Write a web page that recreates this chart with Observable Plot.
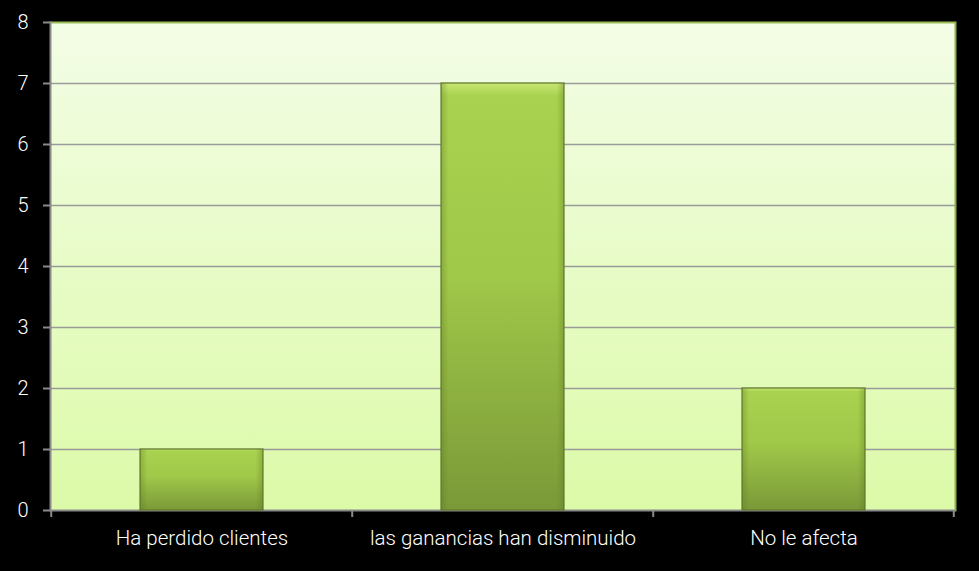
<!DOCTYPE html>
<html><head><meta charset="utf-8">
<script src="https://cdn.jsdelivr.net/npm/d3@7"></script>
<script src="https://cdn.jsdelivr.net/npm/@observablehq/plot@0.6"></script>
<style>
html,body{margin:0;padding:0;background:#000;}
#chart svg{display:block;background:#000;}
</style></head>
<body><div id="chart"></div>
<script>
const categories = ["Ha perdido clientes", "las ganancias han disminuido", "No le afecta"];
const values = [1, 7, 2];
const yTicks = [0, 1, 2, 3, 4, 5, 6, 7, 8];

const data = categories.map((c, i) => ({category: c, value: values[i]}));
const font = "Roboto, 'Open Sans', sans-serif";
const pad = 0.59;

// tick marks at category boundaries, computed from the band scale
function boundaryTicks(index, scales, values, dims) {
  const x = scales.x;
  const step = x.step();
  const y0 = dims.height - dims.marginBottom;
  const xs = categories.map(c => x(c) - step * pad / 2);
  xs.push(x(categories[categories.length - 1]) + x.bandwidth() + step * pad / 2);
  const g = d3.create("svg:g");
  g.selectAll("line").data(xs).join("line")
    .attr("x1", d => d).attr("x2", d => d)
    .attr("y1", y0).attr("y2", y0 + 7)
    .attr("stroke", "#8a8a8a").attr("stroke-width", 2);
  return g.node();
}

const chart = Plot.plot({
  width: 979,
  height: 571,
  marginLeft: 50,
  marginRight: 24,
  marginTop: 22,
  marginBottom: 61,
  style: {background: "#000", color: "#fff", fontFamily: font, fontWeight: 300},
  x: {domain: categories, paddingInner: pad, paddingOuter: pad / 2, align: 0.5, label: null, axis: null},
  y: {domain: [0, 8], ticks: yTicks, label: null, axis: null},
  marks: [
    Plot.frame({fill: "url(#bgGrad)", stroke: "none"}),
    Plot.ruleY(yTicks.filter(d => d > 0 && d < 8), {stroke: "#9a9a9a", strokeWidth: 1.5}),
    Plot.ruleY([8], {stroke: "#9bbb59", strokeWidth: 2}),
    Plot.frame({anchor: "right", stroke: "#8fb04c", strokeWidth: 2}),
    Plot.frame({anchor: "left", stroke: "#8a8a8a", strokeWidth: 2}),
    Plot.ruleY([0], {stroke: "#8a8a8a", strokeWidth: 2}),
    Plot.barY(data, {x: "category", y: "value", fill: "url(#barGrad)", stroke: "#5f7a2a", strokeWidth: 1.2}),
    Plot.barY(data, {x: "category", y: "value", fill: "url(#barSide)", stroke: "none"}),
    Plot.axisY({ticks: yTicks, tickSize: 7, tickPadding: 15, stroke: "#8a8a8a", strokeWidth: 2, fill: "#fff", fontSize: 20, tickFormat: d => d}),
    Plot.axisX({tickSize: 0, tickPadding: 20, fill: "#fff", fontSize: 20.5, stroke: "none"}),
    boundaryTicks
  ]
});

// gradients
const svg = d3.select(chart);
const defs = svg.insert("defs", ":first-child");
const bg = defs.append("linearGradient").attr("id", "bgGrad").attr("x1", 0).attr("y1", 0).attr("x2", 0).attr("y2", 1);
bg.append("stop").attr("offset", "0%").attr("stop-color", "#f3fde6");
bg.append("stop").attr("offset", "100%").attr("stop-color", "#dcfaa8");
const bar = defs.append("linearGradient").attr("id", "barGrad").attr("x1", 0).attr("y1", 0).attr("x2", 0).attr("y2", 1);
bar.append("stop").attr("offset", "0%").attr("stop-color", "#c8e672");
bar.append("stop").attr("offset", "3%").attr("stop-color", "#a9d250");
bar.append("stop").attr("offset", "45%").attr("stop-color", "#a0c849");
bar.append("stop").attr("offset", "100%").attr("stop-color", "#7a9938");
const side = defs.append("linearGradient").attr("id", "barSide").attr("x1", 0).attr("y1", 0).attr("x2", 1).attr("y2", 0);
side.append("stop").attr("offset", "0%").attr("stop-color", "#5a7420").attr("stop-opacity", 0.35);
side.append("stop").attr("offset", "6%").attr("stop-color", "#5a7420").attr("stop-opacity", 0);
side.append("stop").attr("offset", "94%").attr("stop-color", "#5a7420").attr("stop-opacity", 0);
side.append("stop").attr("offset", "100%").attr("stop-color", "#5a7420").attr("stop-opacity", 0.35);

document.getElementById("chart").appendChild(chart);
</script>
</body></html>
